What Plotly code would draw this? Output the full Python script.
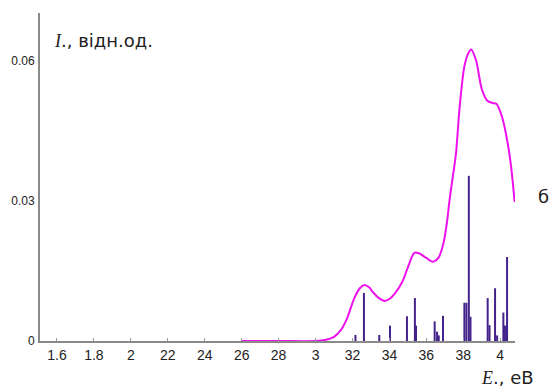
import plotly.graph_objects as go

# Calculated absorption envelope (magenta curve)
curve_energy = [2.60, 2.80, 3.00, 3.05, 3.10, 3.14, 3.17, 3.21, 3.24, 3.265, 3.29, 3.31,
                3.34, 3.373, 3.40, 3.43, 3.47, 3.50, 3.535, 3.56, 3.60, 3.635, 3.665,
                3.69, 3.71, 3.725, 3.743, 3.76, 3.78, 3.805, 3.825, 3.843, 3.87, 3.90,
                3.93, 3.96, 3.98, 4.01, 4.04, 4.06, 4.078]
curve_intensity = [0.0, 0.0, 0.0, 0.0002, 0.0009, 0.0025, 0.0048, 0.0092, 0.0113, 0.0120,
                   0.0115, 0.0105, 0.0093, 0.0086, 0.0090, 0.0102, 0.0127, 0.0158, 0.0189,
                   0.0188, 0.0178, 0.0170, 0.0178, 0.0205, 0.0250, 0.0300, 0.0352, 0.0400,
                   0.0500, 0.0587, 0.0615, 0.0625, 0.0600, 0.0540, 0.0515, 0.0510, 0.0508,
                   0.0480, 0.0425, 0.0370, 0.0298]

# Individual transitions (stick spectrum)
line_energy = [3.216, 3.262, 3.345, 3.403, 3.495, 3.538, 3.544, 3.645, 3.658, 3.667,
               3.690, 3.806, 3.817, 3.830, 3.839, 3.932, 3.942, 3.972, 3.983, 4.017,
               4.025, 4.033, 4.037]
line_strength = [0.0013, 0.0103, 0.0013, 0.0033, 0.0053, 0.0092, 0.0033, 0.0042, 0.0020,
                 0.0012, 0.0054, 0.0082, 0.0082, 0.0354, 0.0052, 0.0092, 0.0034, 0.0113,
                 0.0012, 0.0061, 0.0033, 0.0033, 0.0180]

x_tick_vals = [1.6, 1.8, 2.0, 2.2, 2.4, 2.6, 2.8, 3.0, 3.2, 3.4, 3.6, 3.8, 4.0]
x_tick_text = ["1.6", "1.8", "2", "22", "24", "26", "28", "3", "32", "34", "36", "38", "4"]
y_tick_vals = [0, 0.03, 0.06]
y_tick_text = ["0", "0.03", "0.06"]

# Build stick segments: baseline -> strength, separated by gaps
stick_x, stick_y = [], []
for e, s in zip(line_energy, line_strength):
    stick_x += [e, e, None]
    stick_y += [0, s, None]

fig = go.Figure()
fig.add_trace(go.Scatter(x=stick_x, y=stick_y, mode="lines",
                         line=dict(color="#44228c", width=2), hoverinfo="skip"))
fig.add_trace(go.Scatter(x=curve_energy, y=curve_intensity, mode="lines",
                         line=dict(color="#ee11ee", width=2, shape="spline", smoothing=0.8)))

fig.update_layout(
    width=550, height=391,
    margin=dict(l=40, r=35, t=13, b=50),
    paper_bgcolor="white", plot_bgcolor="white",
    showlegend=False,
    font=dict(family="Liberation Sans, Arial, sans-serif", color="#222"),
    xaxis=dict(range=[1.508, 4.08], tickvals=x_tick_vals, ticktext=x_tick_text,
               showgrid=False, zeroline=False, showline=True, linecolor="#8a8a8a",
               linewidth=2, ticks="inside", ticklen=3, tickcolor="#9a9a9a",
               tickfont=dict(size=14, color="#222")),
    yaxis=dict(range=[0, 0.0703], tickvals=y_tick_vals, ticktext=y_tick_text,
               showgrid=False, zeroline=False, showline=True, linecolor="#8a8a8a",
               linewidth=2, ticks="", tickfont=dict(size=12, color="#222"),
               ticklabelstandoff=1),
)

label_font = dict(family="DejaVu Sans, sans-serif", size=18, color="#222")
fig.add_annotation(xref="paper", yref="paper", x=0.025, y=0.915, xanchor="left", yanchor="middle",
                   text='<span style="font-family:Liberation Serif"><i>I</i></span>., відн.од.',
                   showarrow=False, font=label_font)
fig.add_annotation(xref="paper", yref="paper", x=1.045, y=0.44, xanchor="left", yanchor="middle",
                   text="б", showarrow=False, font=label_font)
fig.add_annotation(xref="paper", yref="paper", x=0.925, y=-0.11, xanchor="left", yanchor="middle",
                   text='<span style="font-family:Liberation Serif"><i>E</i></span>., eB',
                   showarrow=False, font=label_font)

fig.write_html("out.html")
